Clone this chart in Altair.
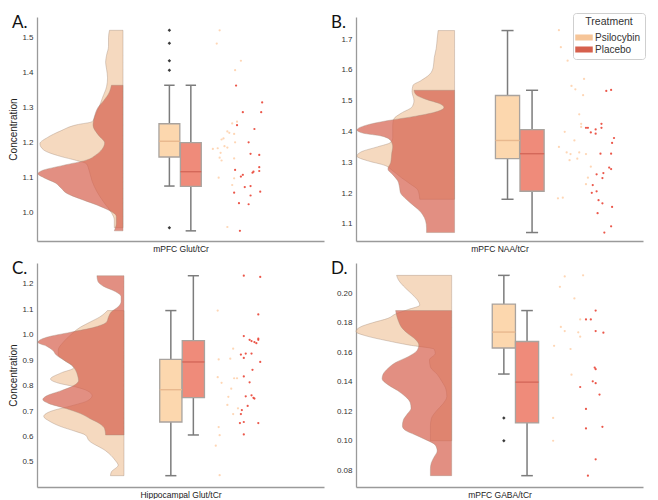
import altair as alt
import pandas as pd

GROUPS = ["Psilocybin", "Placebo"]
PANEL_TAGS = ["A.", "B.", "C.", "D."]
X_TITLES = ["mPFC Glut/tCr", "mPFC NAA/tCr", "Hippocampal Glut/tCr", "mPFC GABA/tCr"]
Y_TITLE = "Concentration"

A_TICKS = [1.0, 1.1, 1.2, 1.3, 1.4, 1.5]
B_TICKS = [1.1, 1.2, 1.3, 1.4, 1.5, 1.6, 1.7]
C_TICKS = [0.5, 0.6, 0.7, 0.8, 0.9, 1.0, 1.1, 1.2]
D_TICKS = [0.08, 0.10, 0.12, 0.14, 0.16, 0.18, 0.20]

# ---- half-violin outlines: concentration level and half-width
A_PSI_V_Y = [1.521, 1.50, 1.475, 1.45, 1.43, 1.41, 1.385, 1.36, 1.33, 1.30, 1.275, 1.26, 1.251, 1.233, 1.215, 1.197, 1.179, 1.161, 1.149, 1.14, 1.12, 1.09, 1.06, 1.03, 1.0, 0.98, 0.957]
A_PSI_V_W = [14, 15, 15, 17, 18, 17, 16, 17, 21, 25, 29, 32, 48, 65, 78, 86, 82, 65, 48, 38, 35, 32, 27, 20, 12, 9, 9]
A_PLA_V_Y = [1.364, 1.345, 1.32, 1.30, 1.28, 1.25, 1.22, 1.20, 1.18, 1.165, 1.15, 1.135, 1.12, 1.111, 1.10, 1.085, 1.07, 1.055, 1.04, 1.025, 1.01, 0.99, 0.97, 0.948]
A_PLA_V_W = [12, 14, 20, 26, 29, 31, 25, 19, 22, 28, 38, 62, 84, 88, 82, 70, 64, 58, 45, 30, 17, 7, 7, 9]

B_PSI_V_Y = [1.728, 1.70, 1.67, 1.64, 1.61, 1.585, 1.565, 1.55, 1.53, 1.50, 1.48, 1.46, 1.44, 1.42, 1.40, 1.38, 1.365, 1.35, 1.335, 1.32, 1.305, 1.29, 1.275, 1.25, 1.23, 1.21, 1.18]
B_PSI_V_W = [17, 18, 19, 21, 22, 26, 35, 43, 44, 42, 44, 55, 63, 64, 64, 64, 66, 80, 96, 101, 90, 72, 65, 55, 46, 38, 36]
B_PLA_V_Y = [1.534, 1.52, 1.505, 1.49, 1.478, 1.465, 1.45, 1.435, 1.42, 1.405, 1.395, 1.385, 1.37, 1.35, 1.33, 1.30, 1.278, 1.26, 1.241, 1.22, 1.201, 1.18, 1.161, 1.145, 1.13, 1.11, 1.087, 1.072]
B_PLA_V_W = [42, 40, 30, 15, 11, 18, 40, 70, 92, 101, 95, 75, 66, 64, 65, 66, 69, 64, 59, 57, 56, 50, 43, 37, 33, 30, 29, 29]

C_PSI_V_Y = [1.095, 1.07, 1.05, 1.03, 1.0, 0.97, 0.94, 0.92, 0.90, 0.87, 0.85, 0.826, 0.81, 0.795, 0.78, 0.76, 0.74, 0.72, 0.70, 0.679, 0.66, 0.64, 0.62, 0.606, 0.583, 0.544, 0.506, 0.487, 0.461, 0.446]
C_PSI_V_W = [17, 25, 35, 45, 55, 63, 68, 68, 62, 52, 65, 76, 68, 50, 38, 33, 38, 55, 75, 83, 77, 66, 50, 40, 36, 19, 9, 6, 13, 14]
C_PLA_V_Y = [1.232, 1.21, 1.19, 1.17, 1.15, 1.13, 1.11, 1.09, 1.07, 1.05, 1.03, 1.01, 0.99, 0.97, 0.955, 0.94, 0.92, 0.90, 0.88, 0.86, 0.84, 0.82, 0.80, 0.78, 0.76, 0.745, 0.73, 0.71, 0.69, 0.67, 0.65, 0.63, 0.606]
C_PLA_V_W = [28, 27, 21, 9, 3, 3, 6, 13, 16, 18, 30, 55, 80, 89, 80, 74, 70, 62, 54, 50, 48, 47, 52, 65, 80, 84, 78, 60, 45, 35, 25, 20, 19]

D_PSI_V_Y = [0.2122, 0.209, 0.205, 0.200, 0.196, 0.192, 0.189, 0.186, 0.183, 0.180, 0.177, 0.174, 0.171, 0.168, 0.165, 0.162, 0.159, 0.155, 0.150, 0.145, 0.140, 0.135, 0.130, 0.125, 0.120, 0.115, 0.110, 0.105, 0.0999]
D_PSI_V_W = [57, 55, 50, 42, 36, 33, 45, 58, 66, 82, 95, 99, 88, 68, 45, 18, 17, 23, 22, 15, 10, 6, 5, 9, 16, 21, 22, 22, 22]
D_PLA_V_Y = [0.1883, 0.185, 0.181, 0.177, 0.173, 0.169, 0.165, 0.161, 0.157, 0.153, 0.149, 0.145, 0.142, 0.138, 0.134, 0.130, 0.126, 0.122, 0.118, 0.114, 0.110, 0.107, 0.104, 0.101, 0.097, 0.093, 0.089, 0.085, 0.081, 0.0762]
D_PLA_V_W = [58, 57, 55, 52, 46, 38, 34, 36, 45, 58, 66, 71, 72, 66, 56, 48, 43, 42, 46, 50, 51, 48, 38, 28, 17, 15, 18, 21, 22, 22]

# ---- box statistics: [whisker low, Q1, median, Q3, whisker high]
A_PSI_BOX = [1.076, 1.159, 1.204, 1.254, 1.364]
A_PLA_BOX = [0.948, 1.075, 1.117, 1.200, 1.364]
B_PSI_BOX = [1.180, 1.312, 1.371, 1.517, 1.728]
B_PLA_BOX = [1.072, 1.206, 1.328, 1.406, 1.534]
C_PSI_BOX = [0.446, 0.657, 0.784, 0.903, 1.095]
C_PLA_BOX = [0.606, 0.753, 0.893, 0.977, 1.232]
D_PSI_BOX = [0.1452, 0.1629, 0.1737, 0.1927, 0.2122]
D_PLA_BOX = [0.0762, 0.1120, 0.1397, 0.1673, 0.1883]

A_PSI_OUT = [1.521, 1.484, 1.434, 1.407, 0.957]
D_PSI_OUT = [0.1154, 0.0999]

# ---- raw points (value, jittered horizontal offset)
A_PSI_PT_Y = [1.521, 1.483, 1.434, 1.407, 1.255, 1.260, 1.228, 1.232, 1.212, 1.209, 1.225, 1.201, 1.184, 1.190, 1.171, 1.186, 1.182, 1.157, 1.149, 1.155, 1.098, 1.100, 1.079, 0.959]
A_PSI_PT_X = [189, 186, 211, 205, 202, 207, 199, 197, 193, 191, 204, 205, 187, 194, 190, 197, 182, 189, 191, 204, 204, 188, 202, 197]
A_PLA_PT_Y = [1.363, 1.315, 1.287, 1.287, 1.239, 1.250, 1.201, 1.168, 1.165, 1.108, 1.103, 1.114, 1.117, 1.130, 1.119, 1.122, 1.073, 1.076, 1.060, 1.057, 1.049, 1.027, 1.024, 0.948]
A_PLA_PT_X = [206, 233, 213, 232, 225, 207, 219, 221, 230, 213, 211, 223, 224, 230, 230, 205, 215, 221, 231, 204, 221, 209, 219, 210]

B_PSI_PT_Y = [1.729, 1.674, 1.630, 1.571, 1.548, 1.537, 1.518, 1.456, 1.425, 1.415, 1.399, 1.371, 1.350, 1.332, 1.327, 1.332, 1.327, 1.312, 1.307, 1.286, 1.250, 1.229, 1.183, 1.185]
B_PSI_PT_X = [210, 212, 219, 236, 223, 227, 235, 231, 233, 233, 216, 226, 210, 218, 222, 231, 238, 229, 221, 243, 240, 238, 209, 214]
B_PLA_PT_Y = [1.532, 1.535, 1.412, 1.412, 1.397, 1.407, 1.425, 1.412, 1.393, 1.379, 1.363, 1.328, 1.328, 1.283, 1.278, 1.261, 1.265, 1.249, 1.226, 1.206, 1.201, 1.177, 1.167, 1.135, 1.155, 1.092, 1.072]
B_PLA_PT_X = [259, 264, 238, 240, 243, 248, 254, 254, 248, 267, 265, 253, 264, 262, 264, 249, 256, 255, 245, 249, 244, 251, 255, 250, 265, 264, 257]

C_PSI_PT_Y = [1.095, 0.945, 0.903, 0.906, 0.833, 0.811, 0.829, 0.829, 0.788, 0.756, 0.724, 0.711, 0.688, 0.637, 0.605, 0.564, 0.448]
C_PSI_PT_X = [187, 203, 188, 200, 187, 191, 204, 207, 201, 198, 197, 208, 203, 188, 189, 185, 189]
C_PLA_PT_Y = [1.232, 1.227, 1.080, 0.995, 0.980, 0.975, 0.980, 0.967, 0.971, 0.985, 0.922, 0.926, 0.926, 0.909, 0.893, 0.862, 0.836, 0.813, 0.758, 0.762, 0.752, 0.749, 0.720, 0.704, 0.688, 0.657, 0.653, 0.653, 0.608]
C_PLA_PT_X = [214, 231, 229, 214, 220, 222, 229, 227, 225, 229, 211, 216, 222, 214, 231, 223, 214, 220, 216, 222, 224, 225, 218, 212, 211, 214, 210, 229, 214]

D_PSI_PT_Y = [0.2115, 0.2122, 0.2044, 0.1965, 0.1823, 0.1772, 0.1744, 0.1735, 0.1706, 0.1644, 0.1622, 0.1448, 0.1154, 0.0999]
D_PSI_PT_X = [216, 235, 211, 226, 232, 212, 216, 230, 232, 205, 222, 223, 204, 204]
D_PLA_PT_Y = [0.1883, 0.1823, 0.1823, 0.1744, 0.1733, 0.1496, 0.1485, 0.1403, 0.1390, 0.1313, 0.1364, 0.1215, 0.1083, 0.1094, 0.0873, 0.0762]
D_PLA_PT_X = [248, 238, 243, 248, 256, 247, 248, 245, 248, 252, 232, 238, 238, 255, 248, 240]

# ---- layout / style (not data)
FONT = "Liberation Sans"
W, H = 287, 224
XDOM = [0, 297]
LAYOUT = {
    "A": dict(base=89, centers=[137, 159.2], half=10.8, ydom=[0.919, 1.559], fmt=".1f"),
    "B": dict(base=102, centers=[156.8, 182.2], half=12.5, ydom=[1.0445, 1.772], fmt=".1f"),
    "C": dict(base=90, centers=[138.5, 161.8], half=11.5, ydom=[0.4015, 1.282], fmt=".1f"),
    "D": dict(base=99, centers=[153, 177], half=12, ydom=[0.0685, 0.2206], fmt=".2f"),
}
VIOLIN_FILL = ["#efc59c", "#d6604d"]
VIOLIN_OPAC = [0.65, 0.7]
BOX_FILL = ["#fcd7ae", "#ef8b7a"]
MED_COL = ["#e8b88e", "#d4685a"]
PT_COL = ["#fdbb84", "#e8392a"]
PT_OPAC = [0.6, 0.85]
LEGEND_COL = ["#f6c598", "#d6604d"]
AXIS_COL = "#9a9a9a"
WHISK = "#7c7c7c"


def build_panel(key, tag, xtitle, ytitle, ticks, violins, boxes, outliers, pts, legend=False):
    lay = LAYOUT[key]
    xs = alt.Scale(domain=XDOM, nice=False, zero=False)
    ys = alt.Scale(domain=lay["ydom"], nice=False, zero=False)
    xaxis = alt.Axis(title=xtitle, labels=False, ticks=False, grid=False,
                     domainColor=AXIS_COL, domainWidth=1.3,
                     titleFont=FONT, titleFontSize=8.5, titleFontWeight="normal",
                     titleColor="#222", titlePadding=3)
    ykw = dict(values=ticks, format=lay["fmt"], ticks=False, grid=False,
               domainColor=AXIS_COL, domainWidth=1.3,
               labelFont=FONT, labelFontSize=8, labelColor="#333", labelPadding=4,
               titleFont=FONT, titleFontSize=10, titleFontWeight="normal",
               titleColor="#222", titlePadding=3)
    yaxis = alt.Axis(title=ytitle, **ykw)

    def X(f):
        return alt.X(f, type="quantitative", scale=xs, axis=xaxis)

    def Y(f):
        return alt.Y(f, type="quantitative", scale=ys, axis=yaxis)

    layers = []
    base = lay["base"]
    for gi, (vy, vw) in enumerate(violins):
        vdf = pd.DataFrame({"y": vy, "xl": [base - w for w in vw], "xr": [base] * len(vw)})
        vdf = vdf.sort_values("y")
        layers.append(
            alt.Chart(vdf).mark_area(orient="horizontal", interpolate="monotone",
                                     fill=VIOLIN_FILL[gi], fillOpacity=VIOLIN_OPAC[gi],
                                     stroke="#a08878", strokeWidth=0.7, strokeOpacity=0.55)
            .encode(y=Y("y"), x=X("xl"), x2="xr")
        )

    rows, caps = [], []
    for gi, b in enumerate(boxes):
        c = lay["centers"][gi]
        h = lay["half"]
        rows.append(dict(cx=c, lo=b[0], q1=b[1], med=b[2], q3=b[3], hi=b[4],
                         bl=c - h, br=c + h, fill=BOX_FILL[gi], medc=MED_COL[gi]))
        caps.append(dict(cl=c - h * 0.5, cr=c + h * 0.5, y=b[0]))
        caps.append(dict(cl=c - h * 0.5, cr=c + h * 0.5, y=b[4]))
    bdf = pd.DataFrame(rows)
    cdf = pd.DataFrame(caps)

    layers.append(alt.Chart(bdf).mark_rule(color=WHISK, strokeWidth=1.5)
                  .encode(x=X("cx"), y=Y("lo"), y2="hi"))
    layers.append(alt.Chart(cdf).mark_rule(color=WHISK, strokeWidth=1.5)
                  .encode(x=X("cl"), x2="cr", y=Y("y")))
    layers.append(alt.Chart(bdf).mark_rect(stroke="#a9a39e", strokeWidth=1.3)
                  .encode(x=X("bl"), x2="br", y=Y("q1"), y2="q3",
                          fill=alt.Fill("fill:N", scale=None)))
    layers.append(alt.Chart(bdf).mark_rule(strokeWidth=1.4)
                  .encode(x=X("bl"), x2="br", y=Y("med"),
                          stroke=alt.Stroke("medc:N", scale=None)))

    if outliers:
        odf = pd.DataFrame({"cx": [lay["centers"][0]] * len(outliers), "v": outliers})
        layers.append(alt.Chart(odf).mark_point(shape="diamond", filled=True, size=12,
                                                color="#3a3a3a", opacity=1)
                      .encode(x=X("cx"), y=Y("v")))

    prow = []
    for gi, (py, px) in enumerate(pts):
        for yv, xv in zip(py, px):
            prow.append(dict(px=xv, py=yv, pc=PT_COL[gi], po=PT_OPAC[gi]))
    pdf = pd.DataFrame(prow)
    layers.append(alt.Chart(pdf).mark_circle(size=5)
                  .encode(x=X("px"), y=Y("py"),
                          fill=alt.Fill("pc:N", scale=None),
                          opacity=alt.Opacity("po:Q", scale=None)))

    tdf = pd.DataFrame({"t": [tag]})
    layers.append(alt.Chart(tdf).mark_text(align="left", baseline="alphabetic",
                                           font="Lato", fontSize=17, color="#111")
                  .encode(text="t:N", x=alt.value(-25), y=alt.value(11)))

    if legend:
        ldf = pd.DataFrame({"Treatment": GROUPS})
        layers.append(
            alt.Chart(ldf).mark_square(opacity=0, size=10)
            .encode(
                color=alt.Color("Treatment:N",
                                scale=alt.Scale(domain=GROUPS, range=LEGEND_COL),
                                legend=alt.Legend(
                                    orient="none", legendX=W - 70, legendY=-4,
                                    title="Treatment", titleFont=FONT, titleFontSize=10.5,
                                    titleFontWeight="normal", titleColor="#333",
                                    titleAnchor="middle", titlePadding=3,
                                    labelFont=FONT, labelFontSize=10, labelColor="#333",
                                    symbolType="M-1.25,-0.43L1.25,-0.43L1.25,0.43L-1.25,0.43Z",
                                    symbolSize=196, symbolOpacity=1, symbolStrokeWidth=0,
                                    rowPadding=0, padding=4, cornerRadius=3,
                                    strokeColor="#cfcfcf", fillColor="white")),
                x=alt.value(10), y=alt.value(10))
        )

    return alt.layer(*layers).properties(width=W, height=H)


pA = build_panel("A", PANEL_TAGS[0], X_TITLES[0], Y_TITLE, A_TICKS,
                 [(A_PSI_V_Y, A_PSI_V_W), (A_PLA_V_Y, A_PLA_V_W)],
                 [A_PSI_BOX, A_PLA_BOX], A_PSI_OUT,
                 [(A_PSI_PT_Y, A_PSI_PT_X), (A_PLA_PT_Y, A_PLA_PT_X)])
pB = build_panel("B", PANEL_TAGS[1], X_TITLES[1], None, B_TICKS,
                 [(B_PSI_V_Y, B_PSI_V_W), (B_PLA_V_Y, B_PLA_V_W)],
                 [B_PSI_BOX, B_PLA_BOX], [],
                 [(B_PSI_PT_Y, B_PSI_PT_X), (B_PLA_PT_Y, B_PLA_PT_X)], legend=True)
pC = build_panel("C", PANEL_TAGS[2], X_TITLES[2], Y_TITLE, C_TICKS,
                 [(C_PSI_V_Y, C_PSI_V_W), (C_PLA_V_Y, C_PLA_V_W)],
                 [C_PSI_BOX, C_PLA_BOX], [],
                 [(C_PSI_PT_Y, C_PSI_PT_X), (C_PLA_PT_Y, C_PLA_PT_X)])
pD = build_panel("D", PANEL_TAGS[3], X_TITLES[3], None, D_TICKS,
                 [(D_PSI_V_Y, D_PSI_V_W), (D_PLA_V_Y, D_PLA_V_W)],
                 [D_PSI_BOX, D_PLA_BOX], D_PSI_OUT,
                 [(D_PSI_PT_Y, D_PSI_PT_X), (D_PLA_PT_Y, D_PLA_PT_X)])

chart = (
    alt.concat(pA, pB, pC, pD, columns=2, spacing=7)
    .resolve_scale(color="independent")
    .resolve_legend(color="independent")
    .properties(padding={"left": 0, "top": 4, "right": 2, "bottom": 0})
    .configure(font=FONT)
    .configure_view(stroke=None)
)

chart.save("out.html", embed_options={"renderer": "svg", "actions": False})
